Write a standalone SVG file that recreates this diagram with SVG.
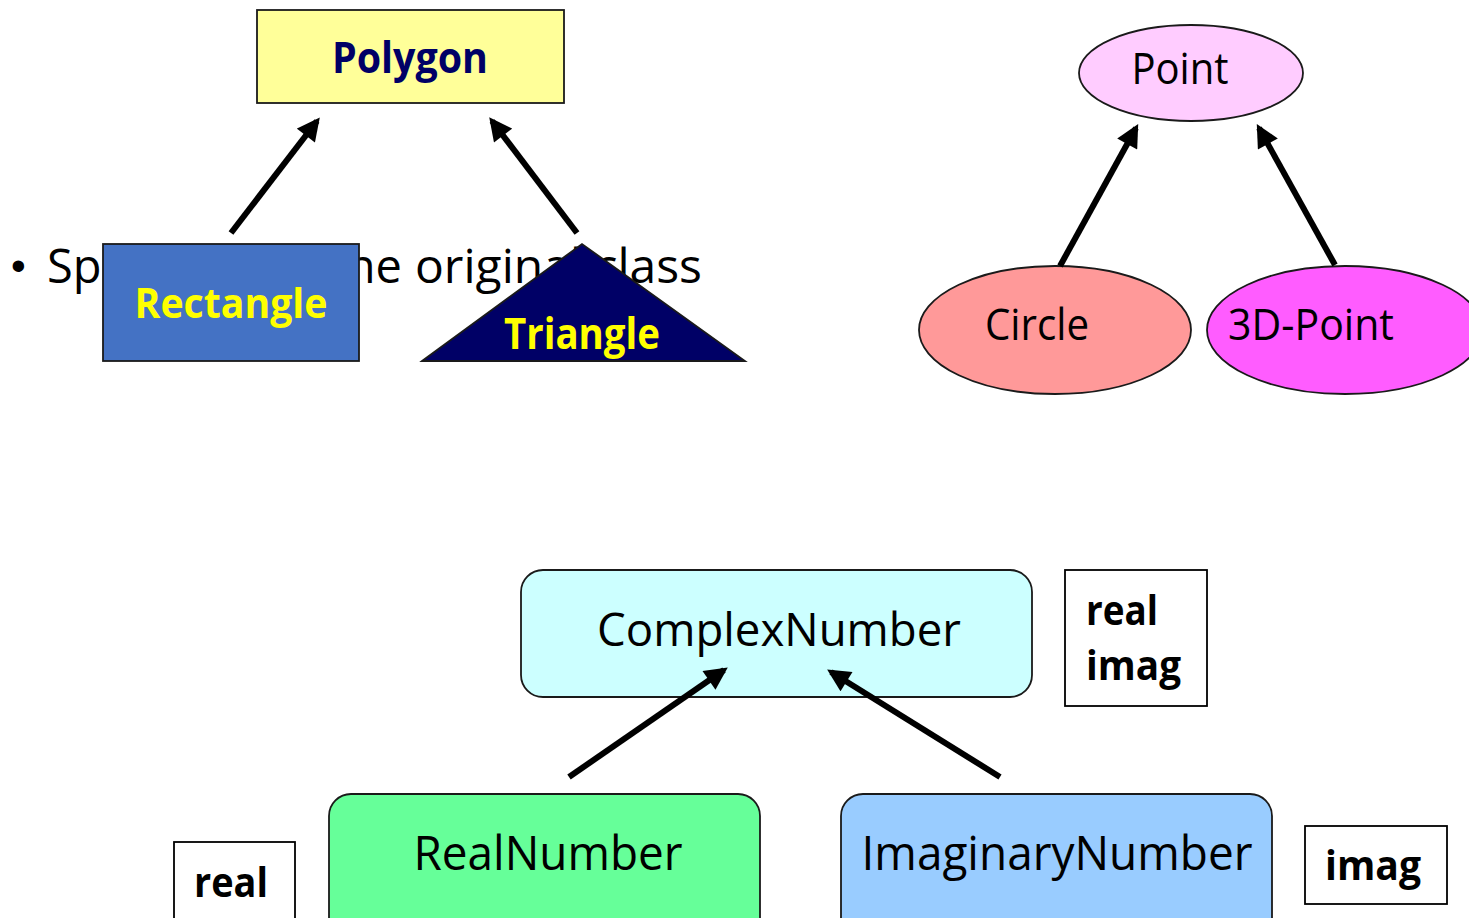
<svg xmlns="http://www.w3.org/2000/svg" width="1469" height="918" viewBox="0 0 1469 918">
  <defs>
    <style>
      .node { stroke: #1a1a1a; stroke-width: 1.8; }
      .lbl { font-family: "Open Sans", "Noto Sans", "Liberation Sans", sans-serif; text-anchor: middle; }
      .bold { font-weight: bold; }
      .conn { stroke: #000; stroke-width: 6; fill: none; marker-end: url(#head); }
      .field { fill: #fff; stroke: #000; stroke-width: 1.8; }
      .ftxt { font-family: "Open Sans", "Noto Sans", "Liberation Sans", sans-serif; font-weight: bold; fill: #000; }
      .body { font-family: "Open Sans", "Noto Sans", "Liberation Sans", sans-serif; font-size: 47px; fill: #000; }
    </style>
    <marker id="head" viewBox="0 0 10 10" refX="8" refY="5" markerWidth="4" markerHeight="3.8" orient="auto" markerUnits="strokeWidth">
      <path d="M0,0 L10,5 L0,10 z" fill="#000"/>
    </marker>
  </defs>
  <rect width="1469" height="918" fill="#fff"/>

  <!-- bullet line sitting behind the shapes -->
  <g id="bullet">
    <text x="11" y="280" font-family="'Liberation Sans', Arial, sans-serif" font-size="42" fill="#000">•</text>
    <text class="body" x="47" y="283">Sp</text>
    <text class="body" x="402" y="283" text-anchor="end">ecialize the</text>
    <text class="body" x="415" y="283" textLength="287" lengthAdjust="spacingAndGlyphs">original class</text>
  </g>

  <!-- Polygon hierarchy -->
  <g id="polygon">
    <rect class="node" x="257" y="10" width="307" height="93" fill="#FFFF99"/>
    <text class="lbl bold" x="410" y="73" font-size="43" fill="#000066" textLength="156" lengthAdjust="spacingAndGlyphs">Polygon</text>
  </g>
  <g id="rectangle">
    <rect class="node" x="103" y="244" width="256" height="117" fill="#4472C4"/>
    <text class="lbl bold" x="231" y="318" font-size="42" fill="#FFFF00" textLength="193" lengthAdjust="spacingAndGlyphs">Rectangle</text>
  </g>
  <g id="triangle">
    <polygon class="node" points="422,361 582,244 745,361" fill="#000066"/>
    <text class="lbl bold" x="582" y="349" font-size="43" fill="#FFFF00" textLength="156" lengthAdjust="spacingAndGlyphs">Triangle</text>
  </g>

  <!-- Point hierarchy -->
  <g id="point">
    <ellipse class="node" cx="1191" cy="73" rx="112" ry="48" fill="#FFCCFF"/>
    <text class="lbl" x="1180" y="84" font-size="44" fill="#000" textLength="97" lengthAdjust="spacingAndGlyphs">Point</text>
  </g>
  <g id="circle">
    <ellipse class="node" cx="1055" cy="330" rx="136" ry="64" fill="#FF9999"/>
    <text class="lbl" x="1037" y="340" font-size="44" fill="#000" textLength="104" lengthAdjust="spacingAndGlyphs">Circle</text>
  </g>
  <g id="point3d">
    <ellipse class="node" cx="1345" cy="330" rx="138" ry="64" fill="#FF5CFF"/>
    <text class="lbl" x="1311" y="340" font-size="44" fill="#000" textLength="166" lengthAdjust="spacingAndGlyphs">3D-Point</text>
  </g>

  <!-- Number hierarchy -->
  <g id="complex">
    <rect class="node" x="521" y="570" width="511" height="127" rx="22" fill="#CCFFFF"/>
    <text class="lbl" x="779" y="646" font-size="46" fill="#000" textLength="364" lengthAdjust="spacingAndGlyphs">ComplexNumber</text>
  </g>
  <g id="complex-fields">
    <rect class="field" x="1065" y="570" width="142" height="136"/>
    <text class="ftxt" x="1086" y="625" font-size="42" textLength="72" lengthAdjust="spacingAndGlyphs">real</text>
    <text class="ftxt" x="1086" y="680" font-size="42" textLength="95" lengthAdjust="spacingAndGlyphs">imag</text>
  </g>
  <g id="real">
    <rect class="node" x="329" y="794" width="431" height="150" rx="22" fill="#66FF99"/>
    <text class="lbl" x="548" y="870" font-size="47" fill="#000" textLength="269" lengthAdjust="spacingAndGlyphs">RealNumber</text>
  </g>
  <g id="real-fields">
    <rect class="field" x="174" y="842" width="121" height="90"/>
    <text class="ftxt" x="194" y="897" font-size="42" textLength="74" lengthAdjust="spacingAndGlyphs">real</text>
  </g>
  <g id="imaginary">
    <rect class="node" x="841" y="794" width="431" height="150" rx="22" fill="#99CCFF"/>
    <text class="lbl" x="1057" y="870" font-size="47" fill="#000" textLength="391" lengthAdjust="spacingAndGlyphs">ImaginaryNumber</text>
  </g>
  <g id="imag-fields">
    <rect class="field" x="1305" y="826" width="142" height="78"/>
    <text class="ftxt" x="1325" y="880" font-size="42" textLength="96" lengthAdjust="spacingAndGlyphs">imag</text>
  </g>

  <!-- inheritance connectors -->
  <g id="connectors">
    <line class="conn" x1="231" y1="233" x2="317" y2="121"/>
    <line class="conn" x1="577" y1="233" x2="492" y2="121"/>
    <line class="conn" x1="1060" y1="266" x2="1136" y2="128"/>
    <line class="conn" x1="1335" y1="265" x2="1259" y2="128"/>
    <line class="conn" x1="569" y1="777" x2="724" y2="670"/>
    <line class="conn" x1="1000" y1="777" x2="831" y2="672"/>
  </g>
</svg>
